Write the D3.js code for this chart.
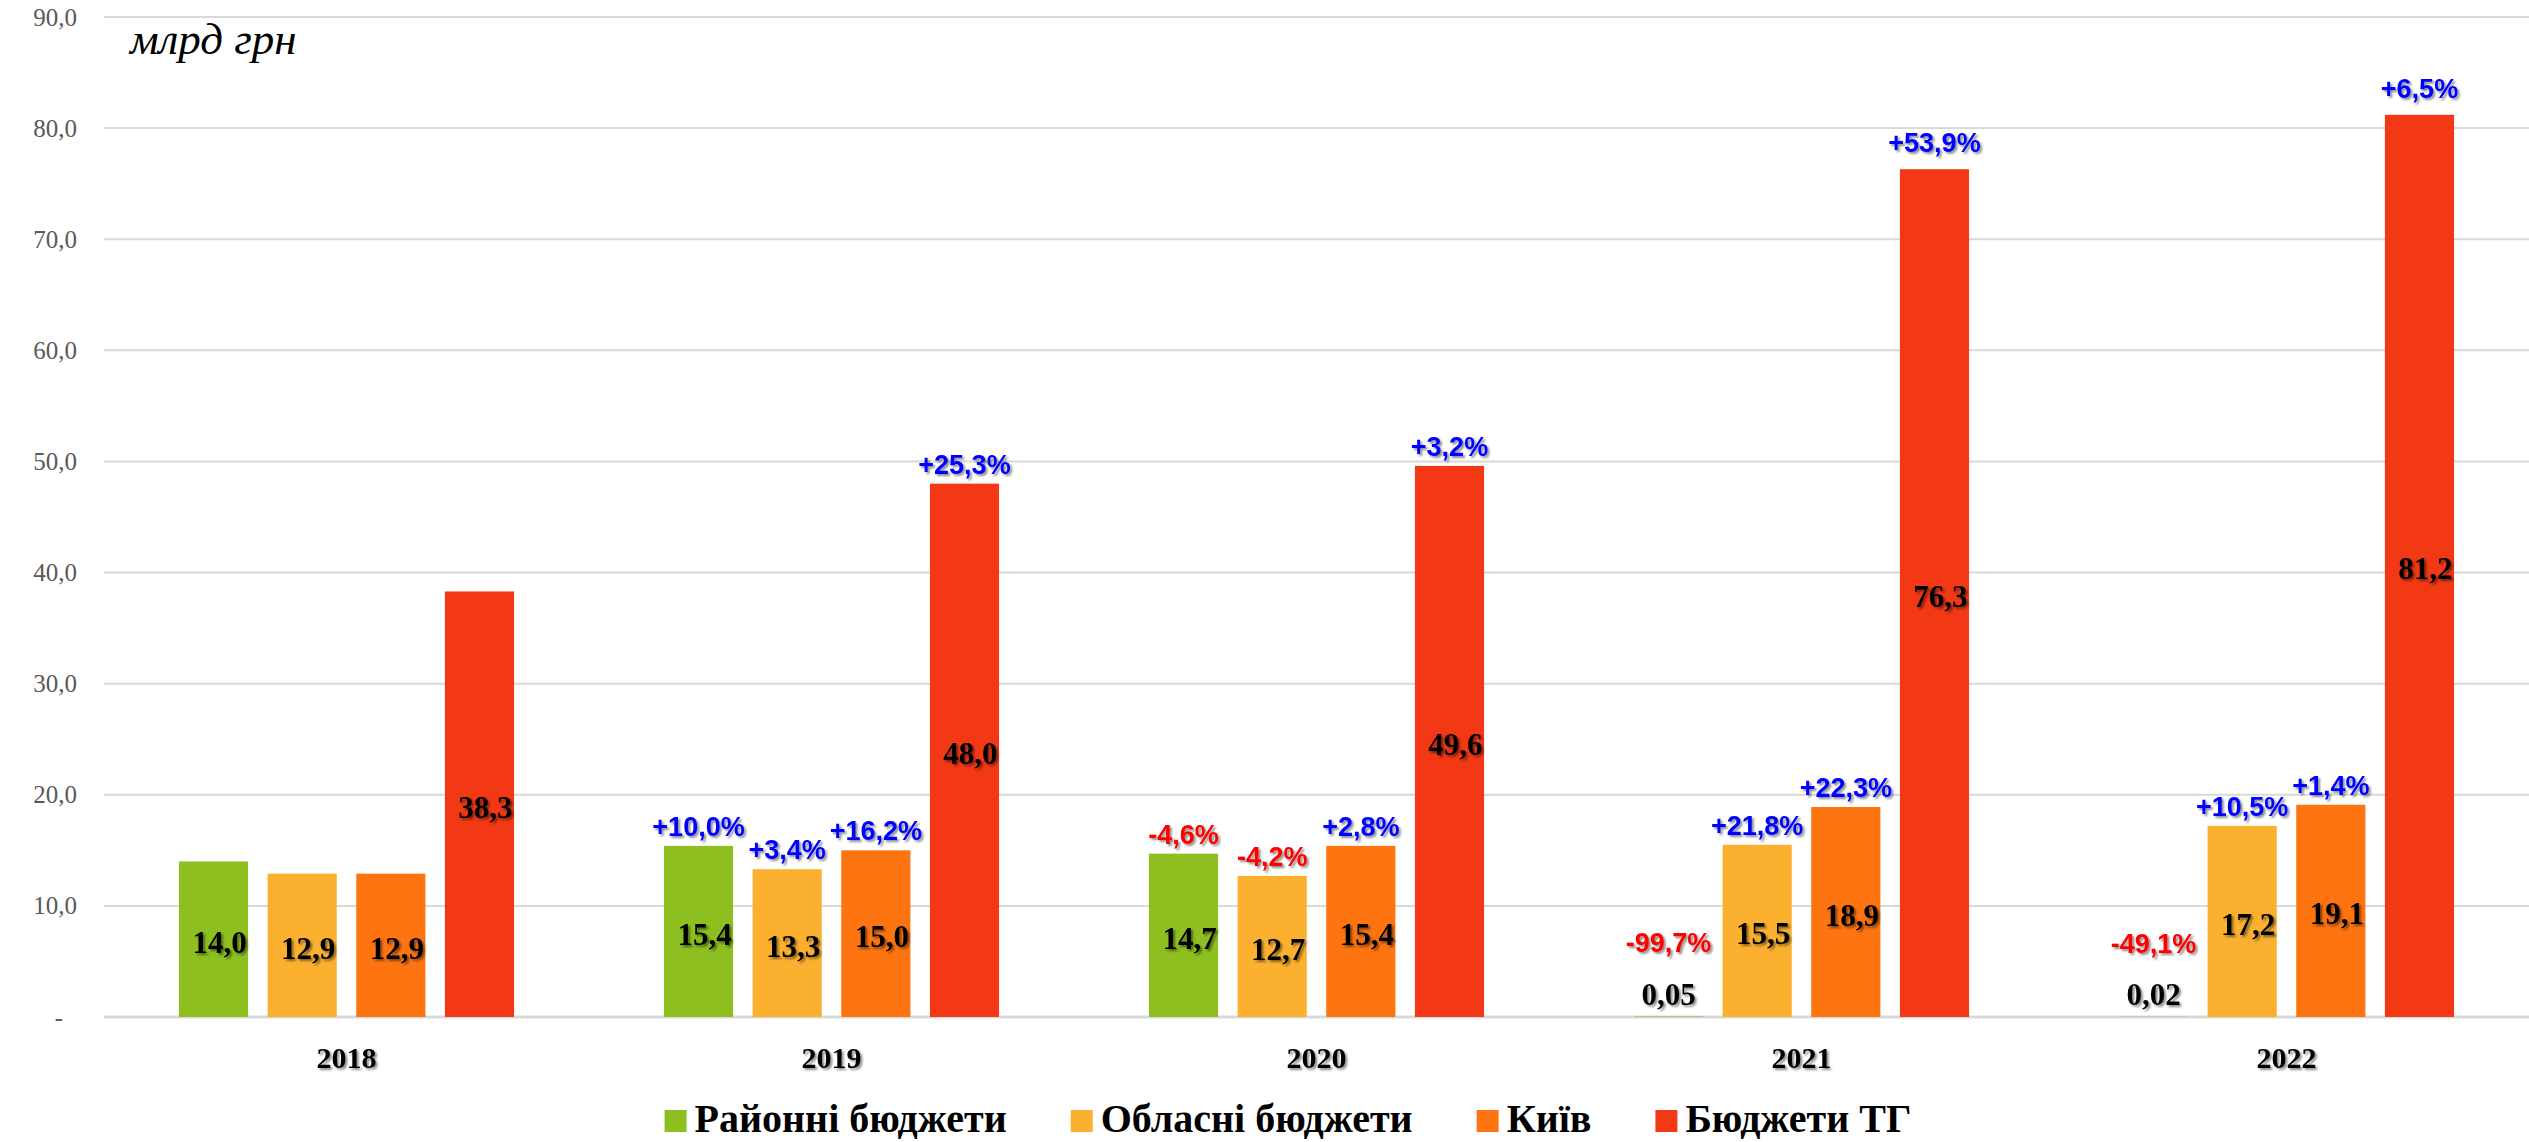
<!DOCTYPE html>
<html>
<head>
<meta charset="utf-8">
<script src="https://cdn.jsdelivr.net/npm/d3@7"></script>
<style>
  body { margin: 0; background: #fff; }
  svg { display: block; }
</style>
</head>
<body>
<div id="chart"></div>
<script>
var years = ["2018", "2019", "2020", "2021", "2022"]
var seriesNames = ["Районні бюджети", "Обласні бюджети", "Київ", "Бюджети ТГ"]
var seriesColors = ["#8cbf1f", "#fbb12f", "#fd7411", "#f23814"]

// bn UAH
var districtValues = [14.0, 15.4, 14.7, 0.05, 0.02]
var oblastValues = [12.9, 13.3, 12.7, 15.5, 17.2]
var kyivValues = [12.9, 15.0, 15.4, 18.9, 19.1]
var tgValues = [38.3, 48.0, 49.6, 76.3, 81.2]

// change vs previous year, %
var districtChange = [null, 10.0, -4.6, -99.7, -49.1]
var oblastChange = [null, 3.4, -4.2, 21.8, 10.5]
var kyivChange = [null, 16.2, 2.8, 22.3, 1.4]
var tgChange = [null, 25.3, 3.2, 53.9, 6.5]

var yTicks = [0, 10, 20, 30, 40, 50, 60, 70, 80, 90]
var yTitle = "млрд грн"

var values = [districtValues, oblastValues, kyivValues, tgValues]
var changes = [districtChange, oblastChange, kyivChange, tgChange]

var W = 2529, H = 1142
var plotLeft = 104, plotRight = 2529, plotBottom = 1017, plotTop = 17

var ua = d3.formatLocale({decimal: ",", thousands: " ", grouping: [3], currency: ["", ""], minus: "-"})
var f1 = ua.format(".1f")
var f2 = ua.format(".2f")

var svg = d3.select("#chart").append("svg")
    .attr("width", W)
    .attr("height", H)

// soft drop shadow used on the labels
var shadow = svg.append("defs").append("filter")
    .attr("id", "shadow")
    .attr("x", "-20%").attr("y", "-30%")
    .attr("width", "150%").attr("height", "170%")
shadow.append("feDropShadow")
    .attr("dx", 2).attr("dy", 2)
    .attr("stdDeviation", 1.3)
    .attr("flood-color", "#000")
    .attr("flood-opacity", 0.45)

var y = d3.scaleLinear().domain([0, 90]).range([plotBottom, plotTop])

var x0 = d3.scaleBand()
    .domain(years)
    .range([plotLeft, plotRight])
    .paddingInner(0.309)
    .paddingOuter(0.1545)

var x1 = d3.scaleBand()
    .domain(d3.range(seriesNames.length))
    .range([0, x0.bandwidth()])
    .paddingInner(0.22)

// gridlines
svg.append("g").selectAll("line")
    .data(yTicks)
  .enter().append("line")
    .attr("x1", plotLeft)
    .attr("x2", plotRight)
    .attr("y1", function(d) { return y(d) })
    .attr("y2", function(d) { return y(d) })
    .attr("stroke", "#d9d9d9")
    .attr("stroke-width", function(d) { return d == 0 ? 3 : 2 })

// y axis labels
var yAxis = d3.axisLeft(y)
    .tickValues(yTicks)
    .tickSize(0)
    .tickPadding(27)
    .tickFormat(function(d) { return d == 0 ? "-" : f1(d) })

var yg = svg.append("g")
    .attr("transform", "translate(" + plotLeft + ",0)")
    .call(yAxis)
yg.select(".domain").remove()
yg.selectAll("text")
    .attr("font-family", "'Liberation Serif', serif")
    .attr("font-size", "25px")
    .attr("fill", "#595959")
    .attr("dx", function(d) { return d == 0 ? -14 : 0 })

svg.append("text")
    .attr("x", 130)
    .attr("y", 54)
    .attr("font-family", "'Liberation Serif', serif")
    .attr("font-style", "italic")
    .attr("font-size", "45px")
    .attr("fill", "#000")
    .text(yTitle)

// bars
var rows = []
years.forEach(function(yr, i) {
  values.forEach(function(arr, s) {
    rows.push({year: yr, s: s, v: arr[i], c: changes[s][i]})
  })
})

var bx = function(d) { return x0(d.year) + x1(d.s) }

svg.append("g").selectAll("rect")
    .data(rows)
  .enter().append("rect")
    .attr("x", bx)
    .attr("y", function(d) { return y(d.v) })
    .attr("width", x1.bandwidth())
    .attr("height", function(d) { return y(0) - y(d.v) })
    .attr("fill", function(d) { return seriesColors[d.s] })

// value labels, in the middle of the bar (above it when the bar is tiny)
svg.append("g").selectAll("text")
    .data(rows)
  .enter().append("text")
    .attr("x", function(d) { return bx(d) + x1.bandwidth() / 2 + (d.v < 1 ? 0 : 6) })
    .attr("y", function(d) { return d.v < 1 ? y(d.v) - 22 : (y(0) + y(d.v)) / 2 + 3 })
    .attr("dominant-baseline", "central")
    .attr("text-anchor", "middle")
    .attr("font-family", "'Liberation Serif', serif")
    .attr("font-weight", "bold")
    .attr("font-size", "31px")
    .attr("fill", "#000")
    .attr("filter", "url(#shadow)")
    .text(function(d) { return d.v < 1 ? f2(d.v) : f1(d.v) })

// change labels above the bars
svg.append("g").selectAll("text")
    .data(rows.filter(function(d) { return d.c != null }))
  .enter().append("text")
    .attr("x", function(d) { return bx(d) + x1.bandwidth() / 2 })
    .attr("y", function(d) {
      if (d.v < 1) return y(d.v) - 64
      return y(d.v) - (d.v > 70 ? 17 : 10)
    })
    .attr("text-anchor", "middle")
    .attr("font-family", "'Liberation Sans Narrow', 'Liberation Sans', sans-serif")
    .attr("font-weight", "bold")
    .attr("font-size", "27px")
    .attr("fill", function(d) { return d.c < 0 ? "#ff0000" : "#0000ff" })
    .attr("filter", "url(#shadow)")
    .text(function(d) { return (d.c > 0 ? "+" : "") + f1(d.c) + "%" })

// category labels
svg.append("g").selectAll("text")
    .data(years)
  .enter().append("text")
    .attr("x", function(d) { return x0(d) + x0.bandwidth() / 2 })
    .attr("y", 1068)
    .attr("text-anchor", "middle")
    .attr("font-family", "'Liberation Serif', serif")
    .attr("font-weight", "bold")
    .attr("font-size", "30px")
    .attr("fill", "#000")
    .attr("filter", "url(#shadow)")
    .text(function(d) { return d })

// legend
var legend = svg.append("g")
var items = legend.selectAll("g")
    .data(seriesNames)
  .enter().append("g")
items.append("rect")
    .attr("y", 1110)
    .attr("width", 22)
    .attr("height", 22)
    .attr("fill", function(d, i) { return seriesColors[i] })
items.append("text")
    .attr("x", 30)
    .attr("y", 1132)
    .attr("font-family", "'Liberation Serif', serif")
    .attr("font-weight", "bold")
    .attr("font-size", "40px")
    .attr("fill", "#000")
    .text(function(d) { return d })

var pos = 0
items.each(function() {
  var w = d3.select(this).select("text").node().getComputedTextLength()
  d3.select(this).attr("data-x", pos)
  pos += 30 + w + 64
})
pos -= 64
var start = 1288 - pos / 2
items.attr("transform", function() { return "translate(" + (start + +this.getAttribute("data-x")) + ",0)" })
</script>
</body>
</html>
